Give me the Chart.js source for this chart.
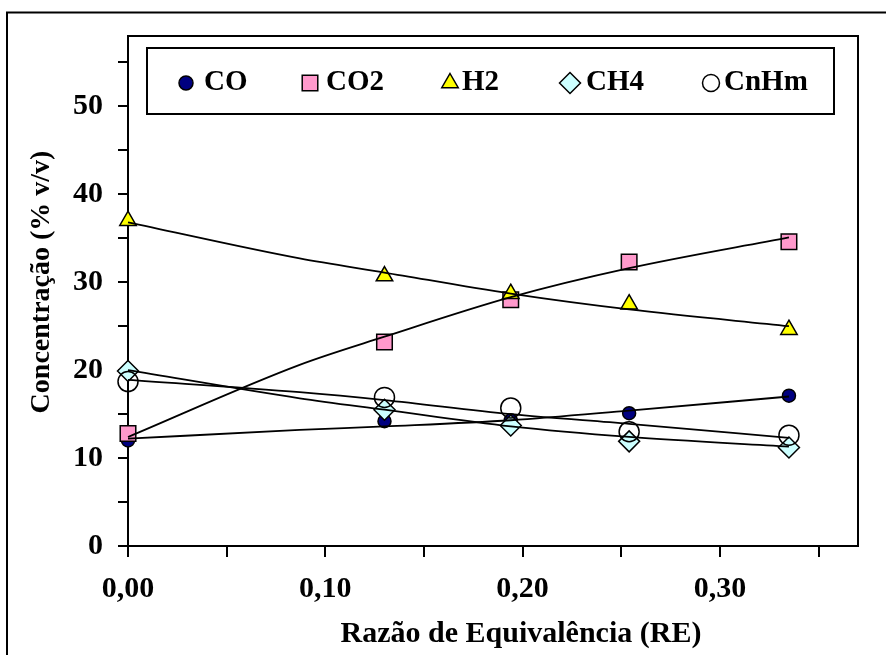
<!DOCTYPE html>
<html>
<head>
<meta charset="utf-8">
<script src="https://cdn.jsdelivr.net/npm/chart.js"></script>
<style>
  body { margin: 0; background: #fff; }
  #wrap { position: relative; width: 886px; height: 655px; }
</style>
</head>
<body>
<div id="wrap"><canvas id="myChart"></canvas></div>
<script>
// measured points (Razão de Equivalência vs % v/v)
const re = [0, 0.13, 0.194, 0.254, 0.335];
const co = [12.0, 14.2, 14.3, 15.1, 17.1];
const co2 = [12.8, 23.2, 28.0, 32.3, 34.6];
const h2 = [37.0, 30.7, 28.7, 27.5, 24.6];
const ch4 = [19.9, 15.5, 13.7, 11.9, 11.2];
const cnhm = [18.7, 16.9, 15.7, 13.0, 12.6];

// trend lines
const trendRe = [0, 0.087, 0.13, 0.194, 0.254, 0.335];
const coTrend = [12.2, 13.2, 13.6, 14.3, 15.4, 17.0];
const co2Trend = [12.4, 20.6, 23.8, 28.3, 31.6, 35.1];
const h2Trend = [36.8, 32.7, 31.1, 28.7, 26.9, 25.0];
const ch4Trend = [20.0, 16.8, 15.5, 13.6, 12.4, 11.3];
const cnhmTrend = [18.9, 17.5, 16.6, 15.0, 13.9, 12.3];

const seriesNames = ["CO", "CO2", "H2", "CH4", "CnHm"];
const xTickLabels = ["0,00", "0,10", "0,20", "0,30"];
const yTickLabels = ["0", "10", "20", "30", "40", "50"];
const xTitle = "Razão de Equivalência (RE)";
const yTitle = "Concentração (% v/v)";

const FONT = "'Liberation Serif', 'Times New Roman', serif";

function pts(xs, ys) {
  return xs.map((x, i) => ({ x: x, y: ys[i] }));
}

const markers = [
  { style: "circle", radius: 6.5, fill: "#000080" },
  { style: "rect", radius: 11, fill: "#FF99CC" },
  { style: "triangle", radius: 9.5, fill: "#FFFF00" },
  { style: "rectRot", radius: 10.5, fill: "#CCFFFF" },
  { style: "circle", radius: 10, fill: "rgba(0,0,0,0)" },
];
const values = [co, co2, h2, ch4, cnhm];
const trends = [coTrend, co2Trend, h2Trend, ch4Trend, cnhmTrend];

const datasets = [];
// trend lines first so they sit on top of the markers
trends.forEach((t, i) => {
  datasets.push({
    label: seriesNames[i] + " trend",
    data: pts(trendRe, t),
    showLine: true,
    borderColor: "#000",
    borderWidth: 1.8,
    pointRadius: 0,
    cubicInterpolationMode: "monotone",
    clip: false,
  });
});
// later series drawn over earlier ones (like excel)
for (let i = values.length - 1; i >= 0; i--) {
  const m = markers[i];
  datasets.push({
    label: seriesNames[i],
    data: pts(re, values[i]),
    showLine: false,
    pointStyle: m.style,
    pointRadius: m.radius,
    pointHoverRadius: m.radius,
    pointBackgroundColor: m.fill,
    pointBorderColor: "#000",
    pointBorderWidth: 1.5,
    clip: false,
  });
}

function drawMarker(ctx, style, x, y, r) {
  ctx.beginPath();
  if (style === "circle") {
    ctx.arc(x, y, r, 0, Math.PI * 2);
  } else if (style === "rect") {
    const s = r * Math.SQRT1_2;
    ctx.rect(x - s, y - s, 2 * s, 2 * s);
  } else if (style === "triangle") {
    ctx.moveTo(x, y - r);
    ctx.lineTo(x + r * 0.866, y + r * 0.5);
    ctx.lineTo(x - r * 0.866, y + r * 0.5);
    ctx.closePath();
  } else if (style === "rectRot") {
    ctx.moveTo(x - r, y);
    ctx.lineTo(x, y - r);
    ctx.lineTo(x + r, y);
    ctx.lineTo(x, y + r);
    ctx.closePath();
  }
  ctx.fill();
  ctx.stroke();
}

// frame, plot box, legend box and axis titles
const decorations = {
  id: "decorations",
  beforeDraw(chart) {
    const ctx = chart.ctx;
    ctx.save();
    ctx.fillStyle = "#fff";
    ctx.fillRect(0, 0, chart.width, chart.height);
    ctx.strokeStyle = "#000";
    ctx.lineWidth = 2;
    ctx.strokeRect(7, 12.5, 920, 700);
    ctx.restore();
  },
  afterDraw(chart) {
    const ctx = chart.ctx;
    const a = chart.chartArea;
    ctx.save();
    ctx.strokeStyle = "#000";
    ctx.lineWidth = 2;
    ctx.beginPath();
    ctx.moveTo(a.left, a.top);
    ctx.lineTo(a.right, a.top);
    ctx.lineTo(a.right, a.bottom);
    ctx.stroke();

    // legend
    const lx = a.left + 19, ly = a.top + 12, lw = 687, lh = 66;
    ctx.fillStyle = "#fff";
    ctx.fillRect(lx, ly, lw, lh);
    ctx.strokeRect(lx, ly, lw, lh);
    const markX = [186, 310, 450, 570, 711];
    const textX = [204, 326, 462, 586, 724];
    const my = ly + 35;
    ctx.lineWidth = 1.5;
    markers.forEach((m, i) => {
      ctx.fillStyle = m.fill;
      let r = m.radius;
      if (i === 0) r = 7;
      if (i === 4) r = 8.5;
      drawMarker(ctx, m.style, markX[i], my, r);
    });
    ctx.fillStyle = "#000";
    ctx.font = "bold 29px " + FONT;
    ctx.textBaseline = "middle";
    ctx.textAlign = "left";
    seriesNames.forEach((n, i) => ctx.fillText(n, textX[i], my));

    // axis titles
    ctx.font = "bold 30px " + FONT;
    ctx.textAlign = "center";
    ctx.fillText(xTitle, 521, 634);
    ctx.translate(42, 282);
    ctx.rotate(-Math.PI / 2);
    ctx.font = "bold 28px " + FONT;
    ctx.fillText(yTitle, 0, 0);
    ctx.restore();
  },
};

const ctx = document.getElementById("myChart").getContext("2d");
const chart = new Chart(ctx, {
  type: "scatter",
  data: { datasets: datasets },
  plugins: [decorations],
  options: {
    responsive: true,
    maintainAspectRatio: false,
    devicePixelRatio: 1,
    animation: false,
    layout: { padding: { left: 0, top: 36, right: 28, bottom: 0 } },
    plugins: {
      legend: { display: false },
      tooltip: { enabled: false },
    },
    scales: {
      x: {
        type: "linear",
        min: 0,
        max: 0.37,
        afterFit: (scale) => {
          scale.height = 109;
        },
        grid: {
          drawOnChartArea: false,
          drawTicks: true,
          tickLength: 11,
          tickColor: "#000",
          lineWidth: 2,
        },
        border: { display: true, color: "#000", width: 2 },
        ticks: {
          stepSize: 0.05,
          includeBounds: false,
          autoSkip: false,
          maxRotation: 0,
          minRotation: 0,
          padding: 14,
          color: "#000",
          font: { family: FONT, weight: "bold", size: 30 },
          callback: (v) => {
            const i = Math.round(v * 100);
            return i % 10 === 0 ? xTickLabels[i / 10] : "";
          },
        },
      },
      y: {
        min: 0,
        max: 58,
        afterFit: (scale) => {
          scale.width = 128;
        },
        grid: {
          drawOnChartArea: false,
          drawTicks: true,
          tickLength: 10,
          tickColor: "#000",
          lineWidth: 2,
        },
        border: { display: true, color: "#000", width: 2 },
        ticks: {
          stepSize: 5,
          includeBounds: false,
          autoSkip: false,
          padding: 15,
          color: "#000",
          font: { family: FONT, weight: "bold", size: 30 },
          callback: (v) => (v % 10 === 0 ? yTickLabels[v / 10] : ""),
        },
      },
    },
  },
});
</script>
</body>
</html>
